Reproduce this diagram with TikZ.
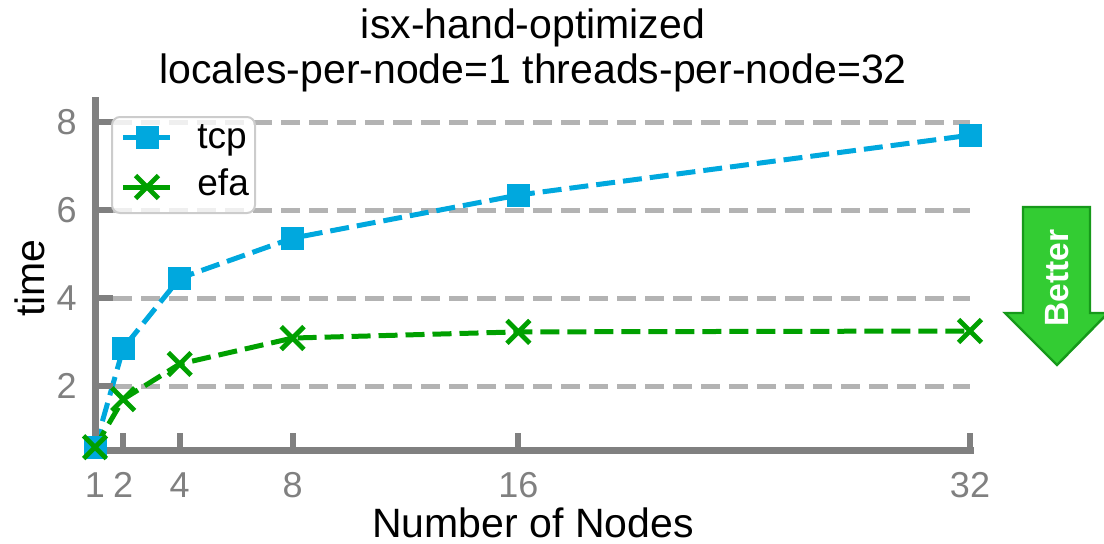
\documentclass[tikz,border=0pt]{standalone}
\usepackage{fontspec}
\setmainfont{Liberation Sans}
\usetikzlibrary{shapes.misc,backgrounds}
\definecolor{tcpblue}{HTML}{00A8DE}
\definecolor{efagreen}{HTML}{00A000}
\definecolor{gridgray}{HTML}{B3B3B3}
\definecolor{axisgray}{HTML}{808080}
\definecolor{bettergreen}{HTML}{33CC33}
\definecolor{betterline}{HTML}{16991A}
\tikzset{
  gridline/.style={draw=gridgray, line width=2.5pt, dash pattern=on 9.5pt off 4.5pt},
  spine/.style={draw=axisgray, line width=3.5pt, line cap=rect},
  tickmark/.style={draw=axisgray, line width=3pt},
  ticklabel/.style={text=axisgray, font=\fontsize{18}{20}\selectfont, inner sep=0pt},
  tcpmark/.style={rectangle, fill=tcpblue, minimum size=11.5pt, inner sep=0pt},
  efamark/.style={cross out, draw=efagreen, line width=2.4pt, minimum size=9pt, inner sep=0pt},
  tcpline/.style={draw=tcpblue, line width=2.5pt, dash pattern=on 9.5pt off 4pt},
  efaline/.style={draw=efagreen, line width=2.5pt, dash pattern=on 9.5pt off 4pt},
}
\begin{document}
\begin{tikzpicture}[x=0.5pt, y=0.5pt]
\useasboundingbox (0,0) rectangle (1104,543);
% title and axis labels
\node[anchor=base, font=\fontsize{20.5}{24}\selectfont] (title1) at (533,505) {isx-hand-optimized};
\node[anchor=base, font=\fontsize{20.5}{24}\selectfont] (title2) at (533,460) {locales-per-node=1 threads-per-node=32};
\node[anchor=base, font=\fontsize{20.5}{24}\selectfont] (xlabel) at (533,6) {Number of Nodes};
\node[rotate=90, inner sep=0pt, font=\fontsize{20.5}{24}\selectfont] (ylabel) at (30,265) {time};
% data area
\begin{scope}[shift={(33.39pt,34.5pt)}, x=14.113pt, y=22pt]
\begin{scope}[on background layer]
\foreach \v in {2,4,6,8}
  \draw[gridline] (1.64,\v) -- (32,\v);
\end{scope}
\draw[spine] (1,8.5) -- (1,0.53) -- (32,0.53);
\foreach \n in {1,2,4,8,16,32} {
  \draw[tickmark] (\n,0.53) -- (\n,0.94);
  \node[ticklabel] (xt\n) at (\n,-0.25) {\n};
}
\foreach \v in {2,4,6,8} {
  \draw[tickmark] (1,\v) -- (1.64,\v);
  \node[ticklabel, anchor=east] (yt\v) at (0.36,\v) {\v};
}
% tcp
\node[tcpmark] (tcp1) at (1,0.61){};
\node[tcpmark] (tcp2) at (2,2.86){};
\node[tcpmark] (tcp4) at (4,4.45){};
\node[tcpmark] (tcp8) at (8,5.36){};
\node[tcpmark] (tcp16) at (16,6.34){};
\node[tcpmark] (tcp32) at (32,7.7){};
% efa
\node[efamark] (efa1) at (1,0.61){};
\node[efamark] (efa2) at (2,1.7){};
\node[efamark] (efa4) at (4,2.5){};
\node[efamark] (efa8) at (8,3.09){};
\node[efamark] (efa16) at (16,3.23){};
\node[efamark] (efa32) at (32,3.25){};
\begin{scope}[on background layer]
\draw[tcpline] (tcp1.center) -- (tcp2.center) -- (tcp4.center) -- (tcp8.center) -- (tcp16.center) -- (tcp32.center);
\draw[efaline] (efa1.center) -- (efa2.center) -- (efa4.center) -- (efa8.center) -- (efa16.center) -- (efa32.center);
\end{scope}
\end{scope}
% legend
\draw[draw=gray!40, line width=1pt, fill=white, fill opacity=0.8, rounded corners=4pt] (112,330) rectangle (255,426);
\coordinate (tcpa) at (123,406);
\coordinate (tcpb) at (170,406);
\draw[draw=tcpblue, line width=2.5pt] (tcpa) -- (tcpb);
\node[tcpmark] (tcpkey) at (147,406){};
\node[anchor=base west, inner sep=0pt, font=\fontsize{18.5}{22}\selectfont] (tcptext) at (197,395) {tcp};
\coordinate (efaa) at (123,356);
\coordinate (efab) at (170,356);
\draw[draw=efagreen, line width=2.5pt] (efaa) -- (efab);
\node[efamark] (efakey) at (147,356){};
\node[anchor=base west, inner sep=0pt, font=\fontsize{18.5}{22}\selectfont] (efatext) at (197,348) {efa};
% better arrow
\draw[fill=bettergreen, draw=betterline, line width=1.2pt] (1023,336) -- (1090,336) -- (1090,230) -- (1108,230) -- (1057,178) -- (1005,230) -- (1023,230) -- cycle;
\node[rotate=90, text=white, font=\bfseries\fontsize{16.8}{20}\selectfont] (better) at (1057,265) {Better};
\end{tikzpicture}
\end{document}
